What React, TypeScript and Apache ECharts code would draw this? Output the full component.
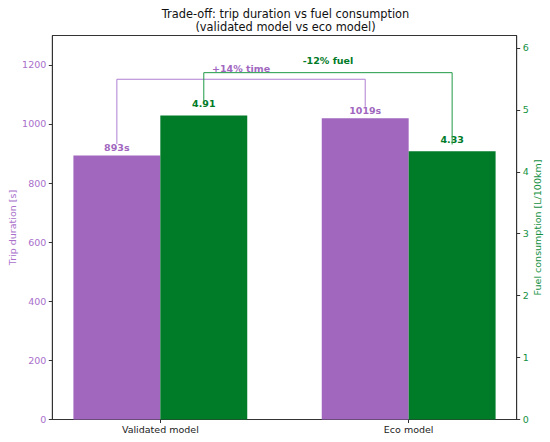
import React, { useEffect, useRef } from "react";
import * as echarts from "echarts";

const categories = ["Validated model", "Eco model"];
const tripDuration = [893, 1019];
const fuelConsumption = [4.91, 4.33];
const leftTicks = [0, 200, 400, 600, 800, 1000, 1200];
const rightTicks = [0, 1, 2, 3, 4, 5, 6];
const categoryTicks = [0, 1];
const timeBracketLevels = [932, 1058, 1151]; // left end, right end, top (s)
const fuelBracketLevels = [5.14, 4.44, 5.6]; // left end, right end, top (L/100km)
const bracketLabels = ["+14% time", "-12% fuel"];

const LEFT_MAX = 1299;
const RIGHT_MAX = 6.2;
const BAR_W = 0.35;
const PURPLE = "#a167bf";
const GREEN = "#007b28";
const PURPLE_TXT = "#a96fcb";
const GREEN_TXT = "#13913f";
const FONT = '"DejaVu Sans", Verdana, sans-serif';

function barRender(color: string, fmt: (v: number) => string, gap: number) {
  return (_params: any, api: any) => {
    const x = api.value(0) as number;
    const v = api.value(1) as number;
    const tl = api.coord([x - BAR_W / 2, v]);
    const br = api.coord([x + BAR_W / 2, 0]);
    return {
      type: "group",
      children: [
        {
          type: "rect",
          shape: { x: tl[0], y: tl[1], width: br[0] - tl[0], height: br[1] - tl[1] },
          style: { fill: color },
        },
        {
          type: "text",
          x: (tl[0] + br[0]) / 2,
          y: tl[1] - gap,
          style: {
            text: fmt(v),
            fill: color,
            font: `bold 9.5px ${FONT}`,
            textAlign: "center",
            textVerticalAlign: "bottom",
          },
        },
      ],
    };
  };
}

function bracketRender(lineColor: string, textColor: string, label: string, gap: number) {
  return (_params: any, api: any) => {
    const x1 = api.value(0) as number;
    const x2 = api.value(1) as number;
    const yL = api.value(2) as number;
    const yR = api.value(3) as number;
    const yT = api.value(4) as number;
    const a = api.coord([x1, yL]);
    const b = api.coord([x1, yT]);
    const c = api.coord([x2, yT]);
    const d = api.coord([x2, yR]);
    return {
      type: "group",
      children: [
        {
          type: "polyline",
          shape: { points: [a, b, c, d] },
          style: { stroke: lineColor, lineWidth: 1, fill: null },
        },
        {
          type: "text",
          x: (b[0] + c[0]) / 2,
          y: b[1] - gap,
          style: {
            text: label,
            fill: textColor,
            font: `bold 9.5px ${FONT}`,
            textAlign: "center",
            textVerticalAlign: "bottom",
          },
        },
      ],
    };
  };
}

export default function App() {
  const ref = useRef<HTMLDivElement>(null);
  useEffect(() => {
    if (!ref.current) return;
    const chart = echarts.init(ref.current, undefined, { renderer: "svg" });
    const option: any = {
      animation: false,
      backgroundColor: "#ffffff",
      textStyle: { fontFamily: FONT },
      graphic: [
        {
          type: "text",
          x: 285.5,
          y: 7,
          style: {
            text: "Trade-off: trip duration vs fuel consumption\n(validated model vs eco model)",
            fill: "#111",
            font: `11.4px ${FONT}`,
            lineHeight: 13.5,
            textAlign: "center",
            textVerticalAlign: "top",
          },
        },
      ],
      grid: {
        left: 52.3,
        right: 33.3,
        top: 35.5,
        bottom: 22.5,
        containLabel: false,
        outerBoundsMode: "none",
        show: true,
        borderColor: "#333",
        borderWidth: 1,
        backgroundColor: "transparent",
      },
      xAxis: {
        type: "value",
        min: -0.435,
        max: 1.435,
        splitLine: { show: false },
        axisLine: { show: true, onZero: false, lineStyle: { color: "#333" } },
        axisTick: { show: true, customValues: categoryTicks, length: 3.5, lineStyle: { color: "#333" } },
        axisLabel: {
          customValues: categoryTicks,
          formatter: (v: number) => categories[Math.round(v)] ?? "",
          color: "#222",
          fontSize: 9.5,
          fontFamily: FONT,
          margin: 5,
        },
      },
      yAxis: [
        {
          type: "value",
          min: 0,
          max: LEFT_MAX,
          position: "left",
          splitLine: { show: false },
          axisLine: { show: true, onZero: false, lineStyle: { color: "#333" } },
          axisTick: { show: true, customValues: leftTicks, length: 3.5, lineStyle: { color: "#333" } },
          axisLabel: {
            customValues: leftTicks,
            formatter: (v: number) => String(v),
            color: PURPLE_TXT,
            fontSize: 9.5,
            fontFamily: FONT,
            margin: 6,
          },
          name: "Trip duration [s]",
          nameLocation: "middle",
          nameGap: 35,
          nameMoveOverlap: false,
          nameTextStyle: { color: PURPLE_TXT, fontSize: 9.5, fontFamily: FONT },
        },
        {
          type: "value",
          min: 0,
          max: RIGHT_MAX,
          position: "right",
          splitLine: { show: false },
          axisLine: { show: true, onZero: false, lineStyle: { color: "#333" } },
          axisTick: { show: true, customValues: rightTicks, length: 3.5, lineStyle: { color: "#333" } },
          axisLabel: {
            customValues: rightTicks,
            formatter: (v: number) => String(v),
            color: GREEN_TXT,
            fontSize: 9.5,
            fontFamily: FONT,
            margin: 6,
          },
          name: "Fuel consumption [L/100km]",
          nameLocation: "middle",
          nameGap: 16,
          nameMoveOverlap: false,
          nameTextStyle: { color: GREEN_TXT, fontSize: 9.5, fontFamily: FONT },
        },
      ],
      series: [
        {
          type: "custom",
          name: "Trip duration",
          xAxisIndex: 0,
          yAxisIndex: 0,
          renderItem: barRender(PURPLE, (v) => `${Math.round(v)}s`, 3),
          data: tripDuration.map((v, i) => [i - BAR_W / 2, v]),
          z: 2,
        },
        {
          type: "custom",
          name: "Fuel consumption",
          xAxisIndex: 0,
          yAxisIndex: 1,
          renderItem: barRender(GREEN, (v) => v.toFixed(2), 6.5),
          data: fuelConsumption.map((v, i) => [i + BAR_W / 2, v]),
          z: 2,
        },
        {
          type: "custom",
          name: "Time bracket",
          xAxisIndex: 0,
          yAxisIndex: 0,
          renderItem: bracketRender("#b07fd3", PURPLE, bracketLabels[0], 5.5),
          data: [[0 - BAR_W / 2, 1 - BAR_W / 2, ...timeBracketLevels]],
          z: 3,
        },
        {
          type: "custom",
          name: "Fuel bracket",
          xAxisIndex: 0,
          yAxisIndex: 1,
          renderItem: bracketRender("#1f9a45", GREEN, bracketLabels[1], 7.5),
          data: [[0 + BAR_W / 2, 1 + BAR_W / 2, ...fuelBracketLevels]],
          z: 3,
        },
      ],
    };
    chart.setOption(option);
    return () => chart.dispose();
  }, []);
  return (
    <div
      ref={ref}
      style={{ position: "absolute", left: 0, top: 0, width: 550, height: 442, background: "#fff" }}
    />
  );
}
